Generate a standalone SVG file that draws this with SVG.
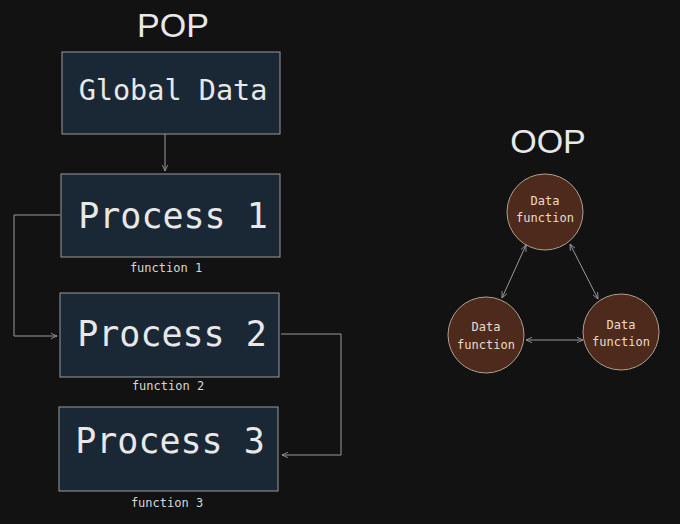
<svg xmlns="http://www.w3.org/2000/svg" width="680" height="524" viewBox="0 0 680 524">
<style>
.box{fill:#1a2735;stroke:#9a9a9a;stroke-width:1}
.circ{fill:#4e2a1c;stroke:#b0a090;stroke-width:1}
.big{font-family:"DejaVu Sans Mono",monospace;fill:#e8e8e8;text-anchor:middle}
.lbl{font-family:"DejaVu Sans Mono",monospace;fill:#d8d8d8;font-size:12px;text-anchor:middle}
.ct{font-family:"DejaVu Sans Mono",monospace;fill:#eadccc;font-size:12px;text-anchor:middle}
.ttl{font-family:"Liberation Sans",sans-serif;fill:#e8e8e8;font-size:34px;text-anchor:middle}
.ln{fill:none;stroke:#9a9a9a;stroke-width:1}
</style>
<defs>
<marker id="ar" viewBox="0 0 10 10" refX="9" refY="5" markerWidth="7" markerHeight="7" orient="auto-start-reverse"><path d="M0,1 L9,5 L0,9" fill="none" stroke="#9a9a9a" stroke-width="1.2"/></marker>
</defs>
<rect width="680" height="524" fill="#121212"/>
<text class="ttl" x="173" y="37">POP</text>
<text class="ttl" x="548" y="153">OOP</text>
<g id="global"><rect class="box" x="62" y="52" width="218" height="82"/><text class="big" x="173" y="100" font-size="28.5">Global Data</text></g>
<g id="p1"><rect class="box" x="61" y="174" width="219" height="83"/><text class="big" x="173" y="228" font-size="35">Process 1</text><text class="lbl" x="166" y="272">function 1</text></g>
<g id="p2"><rect class="box" x="60" y="293" width="219" height="84"/><text class="big" x="172" y="346" font-size="35">Process 2</text><text class="lbl" x="168" y="390">function 2</text></g>
<g id="p3"><rect class="box" x="59" y="407" width="219" height="84"/><text class="big" x="170" y="453" font-size="35">Process 3</text><text class="lbl" x="167" y="507">function 3</text></g>
<g id="c1"><circle class="circ" cx="545" cy="212" r="38"/><text class="ct" x="545" y="205">Data</text><text class="ct" x="545" y="222">function</text></g>
<g id="c2"><circle class="circ" cx="486" cy="335" r="38"/><text class="ct" x="486" y="331">Data</text><text class="ct" x="486" y="349">function</text></g>
<g id="c3"><circle class="circ" cx="621" cy="332" r="38"/><text class="ct" x="621" y="329">Data</text><text class="ct" x="621" y="346">function</text></g>
<g id="connectors">
<path class="ln" d="M165,134 V171" marker-end="url(#ar)"/>
<path class="ln" d="M60,215 H14 V336 H57" marker-end="url(#ar)"/>
<path class="ln" d="M281,334 H341 V455 H282" marker-end="url(#ar)"/>
<path class="ln" d="M526,245 L502,298" marker-start="url(#ar)" marker-end="url(#ar)"/>
<path class="ln" d="M570,244 L598,299" marker-start="url(#ar)" marker-end="url(#ar)"/>
<path class="ln" d="M526,340 L583,340" marker-start="url(#ar)" marker-end="url(#ar)"/>
</g>
</svg>
